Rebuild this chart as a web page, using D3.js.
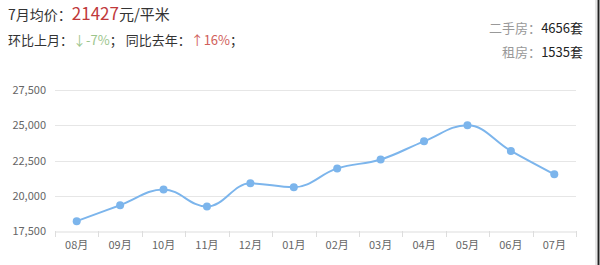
<html>
<head>
  <meta charset="utf-8">
  <style>
    body { margin: 0; background: #fff; font-family: "Noto Sans CJK SC", "Noto Sans", sans-serif; }
    svg { display: block; }
  </style>
</head>
<body>
<div id="chart"></div>
<script src="https://d3js.org/d3.v7.min.js"></script>
<script>
  // monthly avg price, 08月 through 07月
  var months = ["08月", "09月", "10月", "11月", "12月", "01月", "02月", "03月", "04月", "05月", "06月", "07月"];
  var prices = [18200, 19330, 20440, 19230, 20880, 20600, 21940, 22570, 23860, 25000, 23180, 21520];
  var yTicks = [17500, 20000, 22500, 25000, 27500];

  var W = 600, H = 265;
  var svg = d3.select("#chart").append("svg").attr("width", W).attr("height", H);

  // header texts
  var t1 = svg.append("text").attr("x", 8).attr("y", 20).attr("fill", "#333").style("font-size", "14px");
  t1.append("tspan").text("7月均价：");
  t1.append("tspan").attr("fill", "#c0393b").style("font-size", "17px").text("21427");
  t1.append("tspan").style("font-size", "15px").text("元/平米");

  var t2 = svg.append("text").attr("x", 8).attr("y", 45).attr("fill", "#333").style("font-size", "13px");
  t2.append("tspan").text("环比上月：");
  t2.append("tspan").attr("fill", "#9cc58c").text("↓-7%");
  t2.append("tspan").text("；  同比去年：");
  t2.append("tspan").attr("fill", "#d0605a").text("↑16%");
  t2.append("tspan").text("；");

  var r1 = svg.append("text").attr("x", 583).attr("y", 33).attr("text-anchor", "end").style("font-size", "13px");
  r1.append("tspan").attr("fill", "#999").text("二手房：");
  r1.append("tspan").attr("fill", "#222").text("4656套");
  var r2 = svg.append("text").attr("x", 583).attr("y", 57).attr("text-anchor", "end").style("font-size", "13px");
  r2.append("tspan").attr("fill", "#999").text("租房：");
  r2.append("tspan").attr("fill", "#222").text("1535套");

  // right border of the screenshot
  svg.append("line").attr("x1", 596).attr("x2", 596).attr("y1", 0).attr("y2", H).attr("stroke", "#ccc");
  svg.append("line").attr("x1", 598.5).attr("x2", 598.5).attr("y1", 0).attr("y2", H).attr("stroke", "#222").attr("stroke-width", 2);

  var x = d3.scaleBand().domain(months).range([55, 576]);
  var y = d3.scaleLinear().domain([17500, 27500]).range([231, 90]);

  // grid
  svg.append("g").selectAll("line").data(yTicks.slice(1)).enter().append("line")
    .attr("x1", 55).attr("x2", 576)
    .attr("y1", function (d) { return Math.round(y(d)) + 0.5; })
    .attr("y2", function (d) { return Math.round(y(d)) + 0.5; })
    .attr("stroke", "#e6e6e6");

  var yAxis = svg.append("g").attr("transform", "translate(46,0)")
    .call(d3.axisLeft(y).tickValues(yTicks).tickSize(0).tickPadding(0).tickFormat(d3.format(",")));
  yAxis.select(".domain").remove();
  yAxis.selectAll("text").attr("fill", "#666").style("font-size", "11px")
    .style("font-family", "\"Noto Sans CJK SC\", sans-serif");

  var xAxis = svg.append("g").attr("transform", "translate(0,231.5)")
    .call(d3.axisBottom(x).tickSize(0).tickPadding(10));
  xAxis.select(".domain").attr("stroke", "#ddd");
  xAxis.selectAll("text").attr("fill", "#666").style("font-size", "11px")
    .style("font-family", "\"Noto Sans CJK SC\", sans-serif");
  // tick marks between categories
  var edges = months.map(function (m) { return x(m); }).concat([x.range()[1]]);
  svg.append("g").selectAll("line").data(edges).enter().append("line")
    .attr("x1", function (d) { return Math.round(d) + 0.5; })
    .attr("x2", function (d) { return Math.round(d) + 0.5; })
    .attr("y1", 231).attr("y2", 237).attr("stroke", "#ddd");

  // spline (highcharts style smoothing)
  var pts = prices.map(function (v, i) { return [x(months[i]) + x.bandwidth() / 2, y(v)]; });
  var ctrl = pts.map(function (p, i) {
    if (i === 0 || i === pts.length - 1) return { l: p.slice(), r: p.slice() };
    var a = pts[i - 1], b = pts[i + 1], s = 1.5, den = 2.5;
    var lx = (s * p[0] + a[0]) / den, ly = (s * p[1] + a[1]) / den;
    var rx = (s * p[0] + b[0]) / den, ry = (s * p[1] + b[1]) / den;
    var c = (ry - ly) * (rx - p[0]) / (rx - lx) + p[1] - ry;
    ly += c; ry += c;
    if (ly > a[1] && ly > p[1]) { ly = Math.max(a[1], p[1]); ry = 2 * p[1] - ly; }
    else if (ly < a[1] && ly < p[1]) { ly = Math.min(a[1], p[1]); ry = 2 * p[1] - ly; }
    if (ry > b[1] && ry > p[1]) { ry = Math.max(b[1], p[1]); ly = 2 * p[1] - ry; }
    else if (ry < b[1] && ry < p[1]) { ry = Math.min(b[1], p[1]); ly = 2 * p[1] - ry; }
    return { l: [lx, ly], r: [rx, ry] };
  });
  var path = d3.path();
  path.moveTo(pts[0][0], pts[0][1]);
  for (var i = 1; i < pts.length; i++) {
    path.bezierCurveTo(ctrl[i - 1].r[0], ctrl[i - 1].r[1], ctrl[i].l[0], ctrl[i].l[1], pts[i][0], pts[i][1]);
  }
  svg.append("path").attr("d", path.toString())
    .attr("fill", "none").attr("stroke", "#7cb5ec").attr("stroke-width", 2);

  svg.append("g").selectAll("circle").data(prices).enter().append("circle")
    .attr("cx", function (d, i) { return x(months[i]) + x.bandwidth() / 2; })
    .attr("cy", function (d) { return y(d); })
    .attr("r", 4)
    .attr("fill", "#7cb5ec");
</script>
</body>
</html>
